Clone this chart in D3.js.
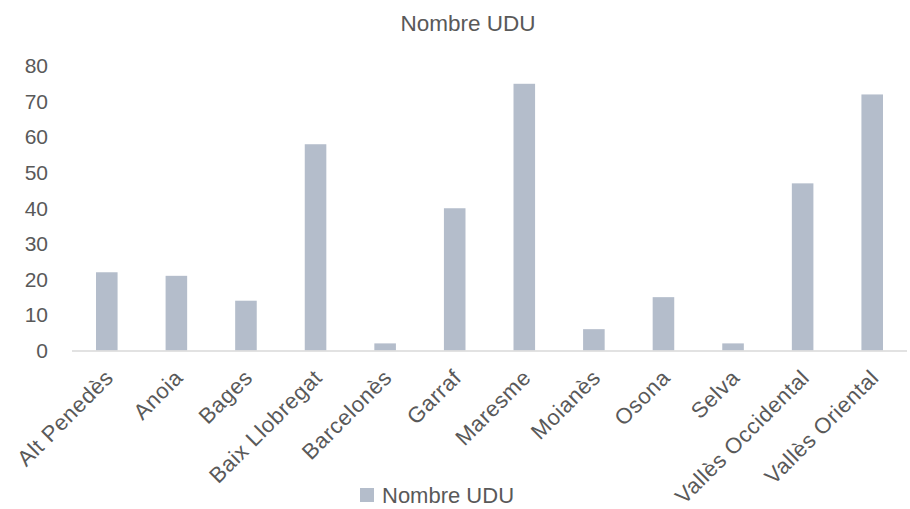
<!DOCTYPE html>
<html>
<head>
<meta charset="utf-8">
<script src="https://cdn.jsdelivr.net/npm/d3@7"></script>
<style>
  body { margin: 0; background: #fff; }
  svg text { font-family: "Liberation Sans", Arial, sans-serif; fill: #595959; }
</style>
</head>
<body>
<script>
// chart data
var comarques = ["Alt Penedès", "Anoia", "Bages", "Baix Llobregat", "Barcelonès", "Garraf",
                 "Maresme", "Moianès", "Osona", "Selva", "Vallès Occidental", "Vallès Oriental"];
var nombreUDU = [22, 21, 14, 58, 2, 40, 75, 6, 15, 2, 47, 72];
var yTicks = [0, 10, 20, 30, 40, 50, 60, 70, 80];
var seriesName = "Nombre UDU";

var width = 910, height = 509;
var margin = {top: 66, right: 3, bottom: 159, left: 72};

var svg = d3.select("body").append("svg")
    .attr("width", width)
    .attr("height", height);

var x = d3.scaleBand()
    .domain(comarques)
    .range([margin.left, width - margin.right])
    .paddingInner(0.69)
    .paddingOuter(0.345);

var y = d3.scaleLinear()
    .domain([0, 80])
    .range([height - margin.bottom + 0.5, margin.top]);

// title
svg.append("text")
    .attr("x", 468)
    .attr("y", 31)
    .attr("text-anchor", "middle")
    .style("font-size", "22.5px")
    .text(seriesName);

// y axis labels (no line)
svg.append("g")
    .selectAll("text")
    .data(yTicks)
    .enter().append("text")
    .attr("x", 48)
    .attr("y", function(d) { return y(d); })
    .attr("dy", "0.35em")
    .attr("text-anchor", "end")
    .style("font-size", "21px")
    .text(function(d) { return d; });

// bars
svg.append("g")
    .selectAll("rect")
    .data(nombreUDU)
    .enter().append("rect")
    .attr("x", function(d, i) { return x(comarques[i]); })
    .attr("y", function(d) { return y(d); })
    .attr("width", x.bandwidth())
    .attr("height", function(d) { return y(0) - y(d); })
    .attr("fill", "#b4bdcb");

// x axis line
svg.append("line")
    .attr("x1", margin.left)
    .attr("x2", width - margin.right)
    .attr("y1", y(0) + 0.5)
    .attr("y2", y(0) + 0.5)
    .attr("stroke", "#d9d9d9")
    .attr("stroke-width", 1.5);

// x labels rotated
svg.append("g")
    .selectAll("text")
    .data(comarques)
    .enter().append("text")
    .attr("text-anchor", "end")
    .style("font-size", "22px")
    .style("letter-spacing", "0.6px")
    .attr("transform", function(d) {
        var cx = x(d) + x.bandwidth() / 2 + 8;
        return "translate(" + cx + "," + 379 + ") rotate(-45)";
    })
    .text(function(d) { return d; });

// legend
var legend = svg.append("g").attr("transform", "translate(360,488)");
legend.append("rect")
    .attr("width", 14)
    .attr("height", 14)
    .attr("fill", "#b4bdcb");
legend.append("text")
    .attr("x", 22)
    .attr("y", 7)
    .attr("dy", "0.35em")
    .style("font-size", "22px")
    .text(seriesName);
</script>
</body>
</html>
